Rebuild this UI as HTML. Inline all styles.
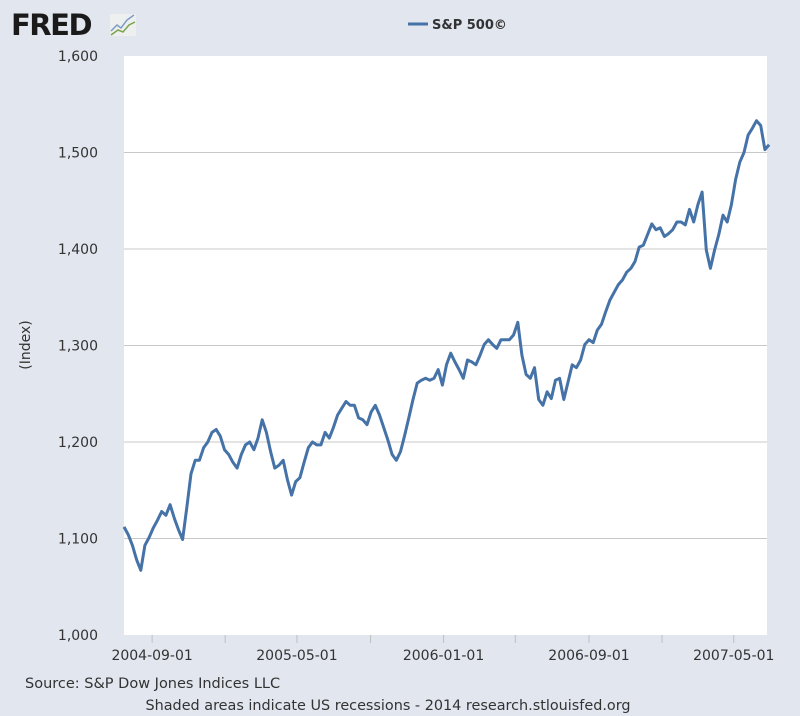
<!DOCTYPE html>
<html><head><meta charset="utf-8"><style>
body{margin:0;background:#e1e6ef;font-family:"DejaVu Sans","Liberation Sans",sans-serif}
#wrap{position:relative;width:800px;height:716px;overflow:hidden}
</style></head><body><div id="wrap">
<svg id="chart" width="800" height="716" xmlns="http://www.w3.org/2000/svg" font-family="DejaVu Sans, Liberation Sans, sans-serif">
<rect width="800" height="716" fill="#e1e6ef"/>
<g>
<text x="11" y="35" font-size="29" font-weight="bold" fill="#1a1a1a" letter-spacing="-1.5">FRED</text>
<rect x="110" y="14" width="26" height="22" fill="#eef0f0"/>
<polyline points="111,31 117,25 121,28 127,20 134,15" fill="none" stroke="#7d9cc4" stroke-width="1.5"/>
<polyline points="111,35 118,30 123,32 129,25 135,22" fill="none" stroke="#7ba44a" stroke-width="1.5"/>
</g>
<g>
<line x1="408" y1="24" x2="428" y2="24" stroke="#4572a7" stroke-width="3"/>
<text x="432" y="29" font-size="13" font-weight="bold" fill="#333">S&amp;P 500©</text>
</g>
<rect x="124" y="56" width="643" height="579" fill="#fff"/>
<g id="grid"></g>
<g id="yticks"></g>
<g id="xticks"></g>
<path id="line" fill="none" stroke="#4572a7" stroke-width="3" stroke-linejoin="round"/>
<text x="30" y="345" font-size="14" fill="#333" transform="rotate(-90 30 345)" text-anchor="middle">(Index)</text>
<text x="25" y="688" font-size="14.5" fill="#333">Source: S&amp;P Dow Jones Indices LLC</text>
<text x="388" y="710" font-size="14.4" fill="#333" text-anchor="middle">Shaded areas indicate US recessions - 2014 research.stlouisfed.org</text>
</svg></div>
<script>
const startDate = "2004-07-16";
const values = [1112,1104,1093,1078,1067,1093,1101,1111,1119,1128,1124,1135,1121,1109,1099,1132,1167,1181,1181,1194,
1200,1210,1213,1206,1192,1187,1179,1173,1187,1197,1200,1192,1204,1223,1210,1190,1173,1176,1181,1161,
1145,1159,1163,1179,1194,1200,1197,1197,1210,1204,1215,1228,1235,1242,1238,1238,1225,1223,1218,1231,
1238,1228,1215,1202,1187,1181,1190,1207,1225,1244,1261,1264,1266,1264,1266,1275,1259,1280,1292,1283,
1275,1266,1285,1283,1280,1290,1301,1306,1301,1297,1306,1306,1306,1311,1324,1290,1270,1266,1277,1244,
1238,1252,1245,1264,1266,1244,1262,1280,1277,1285,1301,1306,1303,1316,1322,1335,1347,1355,1363,1368,
1376,1380,1387,1402,1404,1415,1426,1420,1422,1413,1416,1420,1428,1428,1425,1441,1428,1446,1459,1399,
1380,1399,1415,1435,1428,1446,1472,1490,1500,1518,1525,1533,1528,1503,1508];
const yTicks = [1000,1100,1200,1300,1400,1500,1600];
const xTickLabels = ["2004-09-01","2005-05-01","2006-01-01","2006-09-01","2007-05-01"];
const xMinorTicks = ["2005-01-01","2005-09-01","2006-05-01","2007-01-01"];
const L=124,R=767,T=56,B=635,weeksSpan=153.5;
const x=w=>L+(w/weeksSpan)*(R-L);
const y=v=>B-(v-1000)/600*(B-T);
const wk=d=>(new Date(d+"T00:00:00Z")-new Date(startDate+"T00:00:00Z"))/864e5/7;
const NS="http://www.w3.org/2000/svg";
function mk(tag,attrs,parent){const e=document.createElementNS(NS,tag);for(const k in attrs)e.setAttribute(k,attrs[k]);document.getElementById(parent).appendChild(e);return e;}
yTicks.forEach(v=>{
 if(v>1000&&v<1600){const g=mk('line',{x1:L,x2:R,y1:y(v),y2:y(v),stroke:'#c8c8c8','stroke-width':1},'grid');
 
 }
 const t=mk('text',{x:98,y:y(v)+5,'font-size':14,fill:'#333','text-anchor':'end'},'yticks');
 t.textContent=v.toLocaleString('en-US');
 
 
});
xTickLabels.forEach(d=>{
 const t=mk('text',{x:x(wk(d)),y:660,'font-size':14,fill:'#333','text-anchor':'middle'},'xticks');
 t.textContent=d;
 
 
 const m=mk('line',{x1:x(wk(d)),x2:x(wk(d)),y1:B,y2:B+8,stroke:'#c0c0c0'},'xticks');
 
 
});
xMinorTicks.forEach(d=>{
 const m=mk('line',{x1:x(wk(d)),x2:x(wk(d)),y1:B,y2:B+8,stroke:'#c0c0c0'},'xticks');
 
 
});
document.getElementById('line').setAttribute('d',values.map((v,i)=>(i?'L':'M')+x(i).toFixed(1)+','+y(v).toFixed(1)).join(''));
</script></body></html>
